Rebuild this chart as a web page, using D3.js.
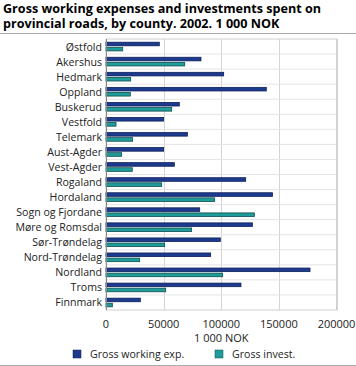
<!DOCTYPE html>
<html><head><meta charset="utf-8">
<script src="https://cdn.jsdelivr.net/npm/d3@7"></script>
<style>body{margin:0;background:#fff;} svg{display:block;font-family:"Open Sans","DejaVu Sans",sans-serif;}</style>
</head><body>
<script>
const titleLines = ["Gross working expenses and investments spent on", "provincial roads, by county. 2002. 1 000 NOK"];
const categories = ["Østfold","Akershus","Hedmark","Oppland","Buskerud","Vestfold","Telemark","Aust-Agder","Vest-Agder","Rogaland","Hordaland","Sogn og Fjordane","Møre og Romsdal","Sør-Trøndelag","Nord-Trøndelag","Nordland","Troms","Finnmark"];
const grossWorking = [46250,82400,102100,139100,63600,50000,70600,50000,59300,121200,144400,81300,127000,99200,90800,177000,117100,29800];
const grossInvest = [14500,68300,21400,21100,57000,8700,23100,13600,22800,48300,94300,128700,74300,50900,29200,101200,51800,5500];
const seriesNames = ["Gross working exp.","Gross invest."];
const xTicks = [0,50000,100000,150000,200000];
const axisTitle = "1 000 NOK";
const colors = ["#1c3a8e","#1f9c9a"];
const strokes = ["#0e1f5a","#0d4f4e"];

const W=356,H=366;
const svg=d3.select("body").append("svg").attr("width",W).attr("height",H);
svg.append("g").selectAll("text").data(titleLines).join("text")
  .attr("x",3).attr("y",(d,i)=>12.5+i*15.5).attr("font-size",12.6).attr("font-weight","bold").attr("fill","#000").text(d=>d);
svg.append("line").attr("x1",0).attr("x2",W).attr("y1",33.5).attr("y2",33.5).attr("stroke","#aaa");
svg.append("line").attr("x1",0).attr("x2",W).attr("y1",365.5).attr("y2",365.5).attr("stroke","#aaa");

const m={l:106,r:336.5,t:39,b:310};
const x=d3.scaleLinear().domain([0,200000]).range([m.l,m.r]);
const y=d3.scaleBand().domain(categories).range([m.t,m.b]);
const g=svg.append("g");
g.selectAll(".grid").data(xTicks).join("line")
 .attr("x1",d=>Math.round(x(d))+0.5).attr("x2",d=>Math.round(x(d))+0.5).attr("y1",m.t).attr("y2",m.b).attr("stroke","#d4d4d4");
g.selectAll(".hg").data(categories.slice(1)).join("line")
 .attr("x1",m.l).attr("x2",m.r).attr("y1",d=>y(d)).attr("y2",d=>y(d)).attr("stroke","#e4e4e4");
g.append("rect").attr("x",m.l).attr("y",m.t).attr("width",m.r-m.l).attr("height",m.b-m.t).attr("fill","none").attr("stroke","#d0d0d0");

const series=[grossWorking,grossInvest];
const bh=3.6;
series.forEach((vals,si)=>{
  g.selectAll(".b"+si).data(categories).join("rect")
   .attr("x",x(0)).attr("y",(d)=>y(d)+3.2+si*(bh+1.5))
   .attr("width",(d,i)=>x(vals[i])-x(0)).attr("height",bh)
   .attr("fill",colors[si]).attr("stroke",strokes[si]).attr("stroke-width",0.8);
});
g.append("line").attr("x1",m.l+0.5).attr("x2",m.l+0.5).attr("y1",m.t).attr("y2",m.b).attr("stroke","#888");

svg.append("g").selectAll("text").data(categories).join("text")
 .attr("x",102).attr("y",d=>y(d)+y.bandwidth()/2+4).attr("text-anchor","end")
 .attr("font-size",10.6).attr("fill","#222").text(d=>d);
svg.append("g").selectAll("text").data(xTicks).join("text")
 .attr("x",d=>x(d)).attr("y",328).attr("text-anchor","middle").attr("font-size",11).attr("fill","#222").text(d=>d);
svg.append("text").attr("x",x(100000)).attr("y",342).attr("text-anchor","middle").attr("font-size",11).attr("fill","#222").text(axisTitle);

const lx=[73,215];
seriesNames.forEach((n,i)=>{
  svg.append("rect").attr("x",lx[i]).attr("y",350).attr("width",8).attr("height",8).attr("fill",colors[i]).attr("stroke",strokes[i]).attr("stroke-width",0.5);
  svg.append("text").attr("x",lx[i]+17).attr("y",358).attr("font-size",10.6).attr("fill","#222").text(n);
});
</script>
</body></html>
